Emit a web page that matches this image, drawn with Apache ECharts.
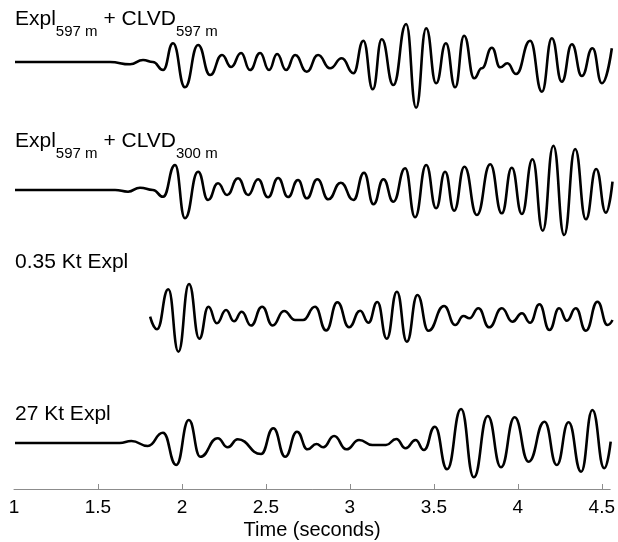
<!DOCTYPE html>
<html>
<head>
<meta charset="utf-8">
<script src="https://cdn.jsdelivr.net/npm/echarts@6/dist/echarts.min.js"></script>
<style>
  html, body { margin: 0; padding: 0; background: #fff; }
  #chart { width: 618px; height: 542px; }
</style>
</head>
<body>
<div id="chart"></div>
<script>
// Expl 597 m + CLVD 597 m
const timeA = [1.006, 1.570, 1.689, 1.766, 1.825, 1.885, 1.944, 2.015, 2.093, 2.164, 2.235, 2.289, 2.348, 2.401, 2.461, 2.514, 2.562, 2.615, 2.669, 2.738, 2.805, 2.876, 2.946, 3.015, 3.074, 3.130, 3.183, 3.252, 3.328, 3.387, 3.447, 3.506, 3.564, 3.619, 3.672, 3.732, 3.777, 3.837, 3.886, 3.929, 3.981, 4.064, 4.134, 4.193, 4.252, 4.312, 4.371, 4.434, 4.490, 4.549]
const ampA = [0, 0, -2.3, 2, 0, -8, 18.7, -25.3, 17, -13, 7, -5, 9, -8, 9, -8, 8, -8, 7, -9.7, 7, -6.3, 3.7, -11.3, 21.3, -27.3, 22.7, -23, 38, -45.7, 33.7, -21.3, 18.7, -25.3, 26.3, -16.3, -6.3, 14.3, -5.3, -1.3, -12, 21.3, -29.7, 23.7, -19.7, 17.7, -14, 13.7, -21.3, 13.7]

// Expl 597 m + CLVD 300 m
const timeB = [1.006, 1.600, 1.677, 1.748, 1.825, 1.885, 1.956, 2.015, 2.093, 2.152, 2.211, 2.265, 2.330, 2.390, 2.449, 2.508, 2.568, 2.627, 2.686, 2.738, 2.801, 2.866, 2.940, 3.015, 3.078, 3.134, 3.193, 3.252, 3.322, 3.381, 3.447, 3.506, 3.559, 3.613, 3.674, 3.748, 3.827, 3.896, 3.955, 4.015, 4.078, 4.139, 4.202, 4.266, 4.331, 4.395, 4.456, 4.514, 4.553]
const ampB = [0, 0, -1.7, 2.3, 0, -6.7, 25, -28.3, 18.3, -10, 6.7, -5, 11.7, -5, 10.7, -7.3, 12, -7, 10, -8.3, 10.7, -9.3, 7.3, -10, 17.3, -14.3, 10.7, -11.7, 21.7, -27.3, 25, -18.3, 18.3, -20.7, 23.3, -25, 25.7, -23.3, 22.3, -24, 30.7, -40.7, 44.3, -45, 41, -29.3, 21, -22.7, 8.3]

// 0.35 Kt Expl
const timeC = [1.808, 1.849, 1.916, 1.976, 2.039, 2.100, 2.154, 2.204, 2.259, 2.306, 2.352, 2.407, 2.473, 2.535, 2.603, 2.669, 2.716, 2.787, 2.853, 2.920, 2.989, 3.055, 3.104, 3.157, 3.213, 3.273, 3.332, 3.395, 3.460, 3.553, 3.619, 3.668, 3.704, 3.757, 3.821, 3.896, 3.959, 4.015, 4.064, 4.119, 4.179, 4.236, 4.282, 4.335, 4.395, 4.464, 4.523, 4.553]
const ampC = [3.3, -9.3, 30.7, -31.7, 36, -18.7, 13.3, -3.3, 10, -1.3, 8.3, -5.5, 13.3, -5.5, 9, 0, 0, 13.3, -10.5, 17.7, -7.3, 9.3, -2.7, 18, -18.7, 28.3, -21.7, 25, -10.7, 14, -5, 4, 1.7, 11.7, -7.3, 11.7, -1.7, 6.7, -2.7, 15.7, -10, 11.7, -0.7, 11.7, -10.7, 18.3, -5, 0]

// 27 Kt Expl
const timeD = [1.006, 1.629, 1.699, 1.797, 1.887, 1.966, 2.041, 2.109, 2.213, 2.273, 2.332, 2.471, 2.544, 2.615, 2.685, 2.748, 2.801, 2.841, 2.906, 2.979, 3.055, 3.134, 3.215, 3.276, 3.332, 3.391, 3.441, 3.506, 3.579, 3.662, 3.738, 3.821, 3.900, 3.981, 4.064, 4.159, 4.232, 4.302, 4.377, 4.444, 4.515, 4.553]
const ampD = [0, 0, 2, -3, 10.3, -22, 23, -13.7, 4.7, -4.3, 3.7, -11, 14.7, -13.7, 11.3, -6.3, -1, -4.3, 7, -6.3, 3, -2, -2, 4, -5.3, 3, -7, 16.3, -26.3, 34, -34.3, 27, -24.3, 25.7, -18.7, 21.3, -22, 20.7, -28.7, 33, -25.3, 1.3]

const traceNames = ['Expl{s|597 m} + CLVD{s|597 m}', 'Expl{s|597 m} + CLVD{s|300 m}', '0.35 Kt Expl', '27 Kt Expl']
const tickValues = [1.5, 2, 2.5, 3, 3.5, 4, 4.5]
const labelValues = [1, 1.5, 2, 2.5, 3, 3.5, 4, 4.5]

const FONT = 'Liberation Sans, Arial, Helvetica, sans-serif'
const traces = [[timeA, ampA], [timeB, ampB], [timeC, ampC], [timeD, ampD]]
const gridTops = [16, 144, 274, 397]
const labelTops = [9, 131, 252, 404]

let chart = echarts.init(document.getElementById('chart'))

let grids = [], xAxes = [], yAxes = [], series = [], graphics = []
traces.forEach((tr, i) => {
  let last = i === traces.length - 1
  grids.push({left: 14, right: 6, top: gridTops[i], height: 92})
  xAxes.push({
    type: 'value',
    gridIndex: i,
    min: 1,
    max: 4.55,
    show: last,
    name: last ? 'Time (seconds)' : '',
    nameLocation: 'middle',
    nameGap: 31,
    nameTextStyle: {fontSize: 20, color: '#000', fontFamily: FONT},
    axisLine: {onZero: false, lineStyle: {color: '#8c8c8c', width: 1}},
    axisTick: {show: true, inside: true, length: 5, customValues: tickValues, lineStyle: {color: '#8c8c8c'}},
    axisLabel: {customValues: labelValues, fontSize: 19, color: '#000', fontFamily: FONT, margin: 9},
    splitLine: {show: false}
  })
  yAxes.push({type: 'value', gridIndex: i, min: -46, max: 46, show: false, splitLine: {show: false}})
  series.push({
    type: 'line',
    xAxisIndex: i,
    yAxisIndex: i,
    data: tr[0].map((t, k) => [t, tr[1][k]]),
    smooth: 0.5,
    smoothMonotone: 'x',
    showSymbol: false,
    clip: false,
    silent: true,
    lineStyle: {color: '#000', width: 2.6}
  })
  graphics.push({
    type: 'text',
    left: 15,
    top: labelTops[i],
    style: {
      text: traceNames[i],
      fontSize: 21,
      fontFamily: FONT,
      fill: '#000',
      rich: {s: {fontSize: 15, fontFamily: FONT, fill: '#000', padding: [24, 0, 0, 0]}}
    }
  })
})

chart.setOption({
  backgroundColor: '#fff',
  animation: false,
  grid: grids,
  xAxis: xAxes,
  yAxis: yAxes,
  series: series,
  graphic: graphics
})
</script>
</body>
</html>
